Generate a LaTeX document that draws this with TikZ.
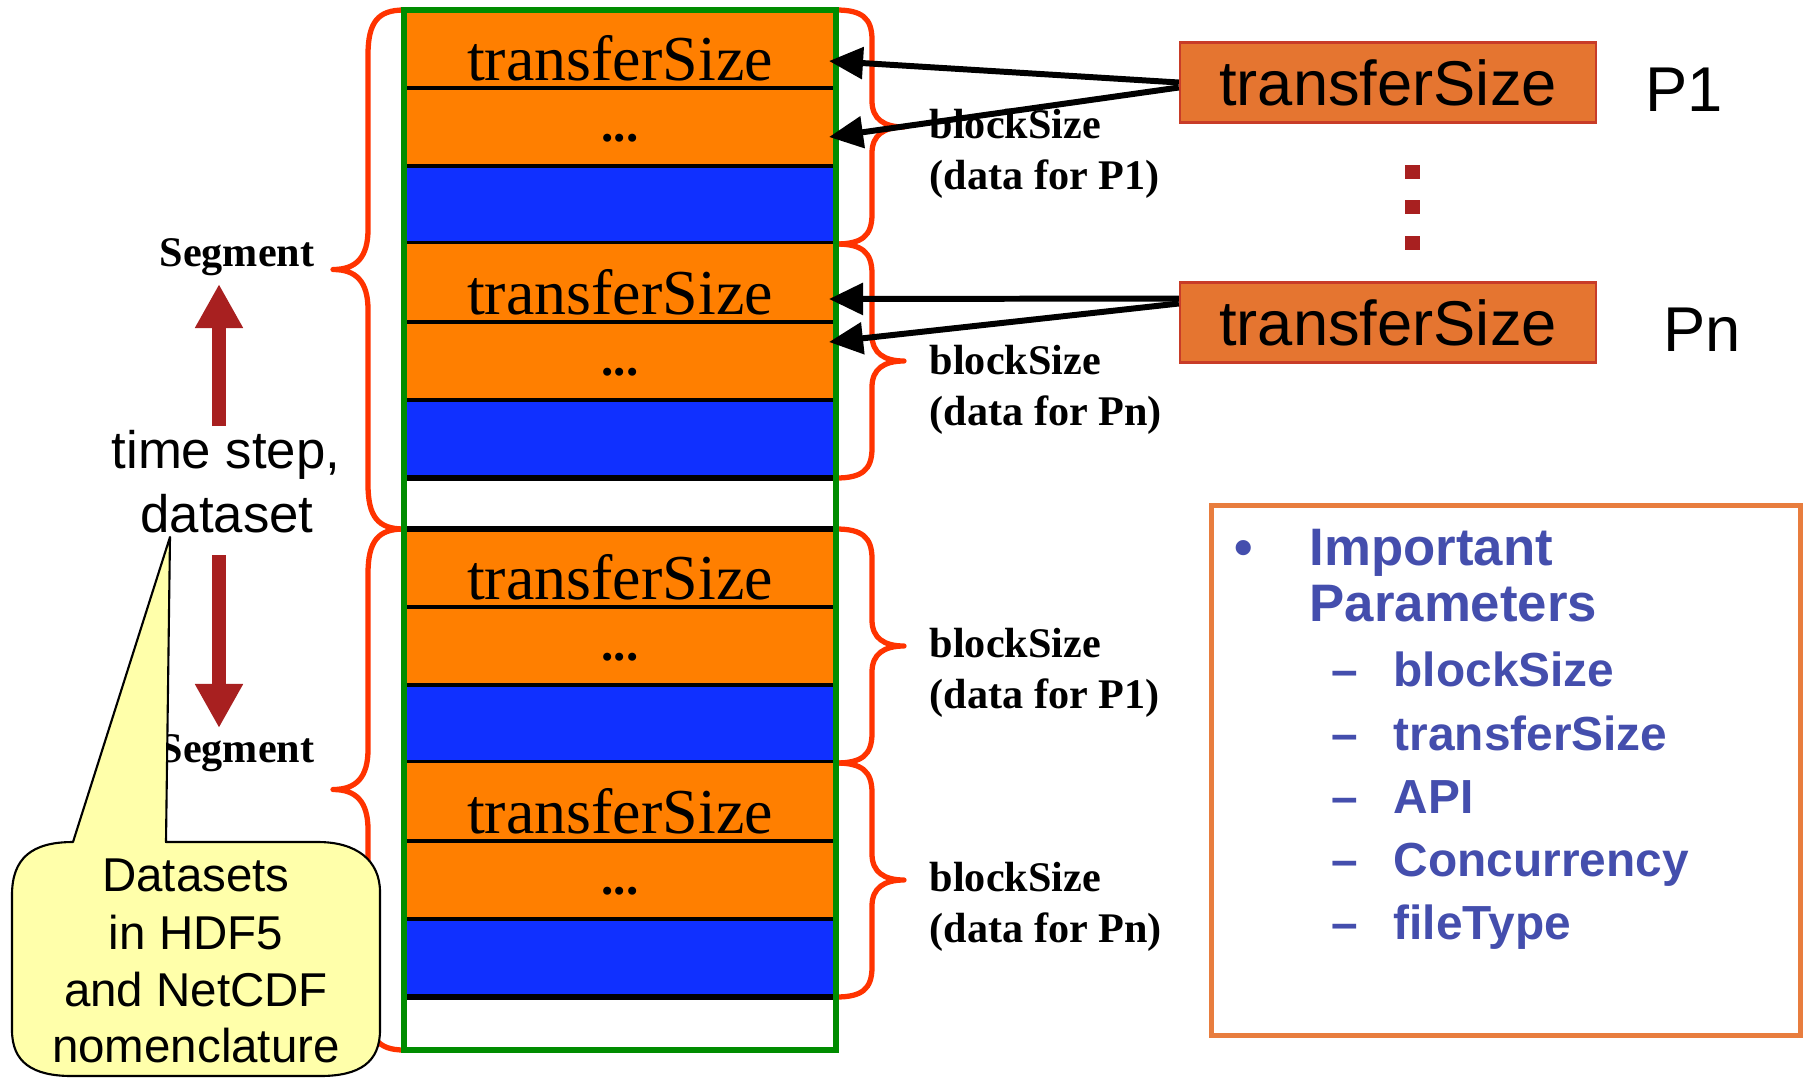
\documentclass[tikz,border=0pt]{standalone}
\usepackage{fontspec}
\setmainfont{Liberation Serif}
\setsansfont{Liberation Sans}
\usetikzlibrary{arrows.meta,calc}

\definecolor{rowor}{RGB}{255,127,0}
\definecolor{rowbl}{RGB}{16,48,255}
\definecolor{framegreen}{RGB}{0,140,0}
\definecolor{bracered}{RGB}{255,51,0}
\definecolor{darkred}{RGB}{168,32,32}
\definecolor{boxor}{RGB}{229,117,48}
\definecolor{boxedge}{RGB}{200,60,40}
\definecolor{paramblue}{RGB}{68,78,173}
\definecolor{paramedge}{RGB}{232,125,62}
\definecolor{noteyel}{RGB}{255,255,170}

\tikzset{
  rowtext/.style={font=\rmfamily\fontsize{18.2}{22}\selectfont, inner sep=0pt, anchor=base},
  dotstext/.style={font=\rmfamily\bfseries\fontsize{14}{16}\selectfont, inner sep=0pt, anchor=base},
  sepline/.style={black, line width=1.1pt},
  blueline/.style={black, line width=1.6pt},
  bracepath/.style={bracered, line width=1.5pt, line cap=round, line join=round},
  seglabel/.style={font=\rmfamily\bfseries\fontsize{12}{14}\selectfont, inner sep=0pt, anchor=base},
  sidetext/.style={font=\sffamily\fontsize{15}{18}\selectfont, inner sep=0pt, anchor=base},
  timearrow/.style={darkred, line width=3.7pt, -{Triangle[length=0.44cm,width=0.45cm]}},
  notetext/.style={font=\sffamily\fontsize{13.5}{16}\selectfont, inner sep=0pt, anchor=base},
  notebody/.style={fill=noteyel, draw=black, line width=0.6pt, line join=round},
  pbox/.style={fill=boxor, draw=boxedge, line width=0.6pt, minimum width=4.16cm,
    minimum height=0.8cm, inner sep=0pt, font=\sffamily\fontsize{18}{21}\selectfont},
  ptag/.style={font=\sffamily\fontsize{18}{21}\selectfont, inner sep=0pt},
  feed/.style={black, line width=1.7pt, -{Triangle[length=0.34cm,width=0.31cm]}},
  blabel/.style={font=\rmfamily\bfseries\fontsize{12}{14}\selectfont, inner sep=0pt, anchor=base west},
  parambox/.style={draw=paramedge, line width=1.5pt, minimum width=5.88cm,
    minimum height=5.29cm, inner sep=0pt},
  ptitle/.style={font=\sffamily\bfseries\fontsize{15}{18}\selectfont, text=paramblue,
    inner sep=0pt, anchor=base west},
  pitem/.style={font=\sffamily\bfseries\fontsize{13.6}{16}\selectfont, text=paramblue,
    inner sep=0pt, anchor=base west},
}

\begin{document}
\begin{tikzpicture}[x=0.01cm,y=-0.01cm]
\useasboundingbox (0,0) rectangle (1803,1078);
\fill[white] (0,0) rectangle (1803,1078);

% ---- file layout: four blocks of (transferSize, ..., data) ----
\foreach \ytop/\g in {10/a,244/b,529/c,763/d}{
  \fill[rowor] (404,\ytop) rectangle (836,\ytop+156);
  \fill[rowbl] (404,\ytop+156) rectangle (836,\ytop+234);
  \draw[sepline] (404,\ytop+78) -- (836,\ytop+78);
  \draw[sepline] (404,\ytop+156) -- (836,\ytop+156);
  \draw[blueline] (404,\ytop+234) -- (836,\ytop+234);
  \node[rowtext] (size\g) at (620,\ytop+70) {transferSize};
  \node[dotstext] (more\g) at (620,\ytop+131) {...};
}
\draw[blueline] (404,529) -- (836,529);

% ---- right braces: one per block ----
\foreach \ya/\yb in {10/244,244/478,529/763,763/997}{
  \pgfmathsetmacro\m{(\ya+\yb)/2}
  \draw[bracepath] (836,\ya) .. controls (862,\ya) and (872,\ya+8) .. (872,\ya+30)
    -- (872,\m-26) .. controls (872,\m-8) and (884,\m) .. (904,\m)
    .. controls (884,\m) and (872,\m+8) .. (872,\m+26)
    -- (872,\yb-30) .. controls (872,\yb-8) and (862,\yb) .. (836,\yb);
}

% ---- left braces: one per segment ----
\foreach \ya/\yb in {10/529,529/1050}{
  \pgfmathsetmacro\m{(\ya+\yb)/2}
  \draw[bracepath] (404,\ya) .. controls (378,\ya) and (368,\ya+12) .. (368,\ya+45)
    -- (368,\m-40) .. controls (368,\m-12) and (356,\m) .. (333,\m)
    .. controls (356,\m) and (368,\m+12) .. (368,\m+40)
    -- (368,\yb-45) .. controls (368,\yb-12) and (378,\yb) .. (404,\yb);
}

% outer frame of the file
\draw[framegreen, line width=1.8pt] (404,10) rectangle (836,1050);

% ---- block labels ----
\node[blabel] (bs1) at (929,138) {blockSize};
\node[blabel] (dp1) at (929,189) {(data for P1)};
\node[blabel] (bs2) at (929,374) {blockSize};
\node[blabel] (dp2) at (929,425) {(data for Pn)};
\node[blabel] (bs3) at (929,657) {blockSize};
\node[blabel] (dp3) at (929,708) {(data for P1)};
\node[blabel] (bs4) at (929,891) {blockSize};
\node[blabel] (dp4) at (929,942) {(data for Pn)};

% ---- left side: segments and time step ----
\node[seglabel] (seg1) at (237,266) {Segment};
\node[seglabel] (seg2) at (237,762) {Segment};
\node[sidetext] (time) at (226,468) {time step,};
\node[sidetext] (dset) at (227,532) {dataset};
\coordinate (upTail) at (219,426);
\coordinate (upTip) at (219,284);
\coordinate (dnTail) at (219,555);
\coordinate (dnTip) at (219,728);
\draw[timearrow] (upTail) -- (upTip);
\draw[timearrow] (dnTail) -- (dnTip);

% ---- note callout ----
\draw[notebody] (73,842) .. controls (32,842) and (12,858) .. (12,895)
  -- (12,1030) .. controls (12,1062) and (32,1076) .. (72,1076)
  -- (320,1076) .. controls (360,1076) and (380,1062) .. (380,1030)
  -- (380,892) .. controls (380,860) and (356,842) .. (318,842)
  -- (166,842) -- (170,537) -- cycle;
\node[notetext] (note1) at (196,891) {Datasets};
\node[notetext] (note2) at (196,949) {in HDF5};
\node[notetext] (note3) at (196,1006) {and NetCDF};
\node[notetext] (note4) at (196,1062) {nomenclature};

% ---- per-process transfer buffers ----
\node[pbox] (p1) at (1388,82.5) {transferSize};
\node[pbox] (p2) at (1388,322.5) {transferSize};
\node[ptag] (tag1) at (1684,90) {P1};
\node[ptag] (tagn) at (1702,330) {Pn};
\foreach \yy in {172,207,243}
  \fill[darkred] (1405,\yy-7) rectangle (1420,\yy+7);

\coordinate (hit1) at (829,61);
\coordinate (hit2) at (829,137);
\coordinate (hit3) at (829,299);
\coordinate (hit4) at (829,342);
\draw[feed] (p1.west) -- (hit1);
\draw[feed] ($(p1.west)+(0,5)$) -- (hit2);
\draw[feed] ($(p2.west)+(0,-24)$) -- (hit3);
\draw[feed] ($(p2.west)+(0,-19)$) -- (hit4);

% ---- parameter list ----
\node[parambox] (params) at (1506,770.5) {};
\node[ptitle, anchor=base] (bullet) at (1244,565) {•};
\node[ptitle] (imp) at (1309,565) {Important};
\node[ptitle] (par) at (1309,621) {Parameters};
\foreach \yy/\txt/\nm in {686/blockSize/i1,750/transferSize/i2,813/API/i3,876/Concurrency/i4,939/fileType/i5}{
  \node[pitem] (dash\nm) at (1331,\yy) {–};
  \node[pitem] (\nm) at (1393,\yy) {\txt};
}
\end{tikzpicture}
\end{document}
